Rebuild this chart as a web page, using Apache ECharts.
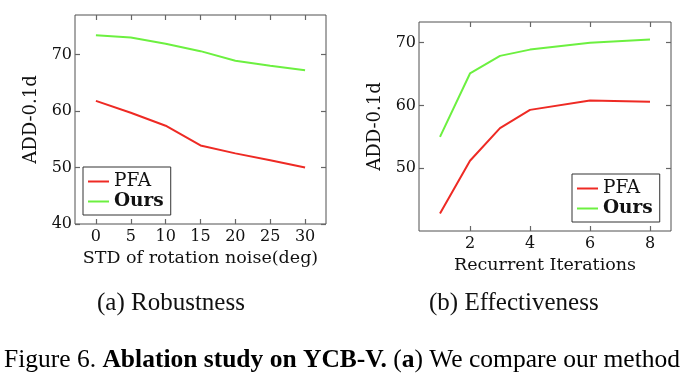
<!DOCTYPE html>
<html>
<head>
<meta charset="utf-8">
<script src="https://cdn.jsdelivr.net/npm/echarts@6/dist/echarts.min.js"></script>
<style>
html,body{margin:0;padding:0;background:#fff;}
#c{width:696px;height:380px;}
</style>
</head>
<body>
<div id="c"></div>
<script>
// ---- data ----
var robustNoise = [0, 5, 10, 15, 20, 25, 30];
var robustPFA  = [61.8, 59.7, 57.4, 53.9, 52.5, 51.3, 50.0];
var robustOurs = [73.4, 73.0, 71.9, 70.6, 68.9, 68.0, 67.2];
var robustXTicks = [0, 5, 10, 15, 20, 25, 30];
var robustYTicks = [40, 50, 60, 70];
var robustXRange = [-3, 33];
var robustYRange = [40, 77];

var iterSteps = [1, 2, 3, 4, 6, 8];
var iterPFA  = [42.8, 51.2, 56.4, 59.3, 60.8, 60.6];
var iterOurs = [55.0, 65.1, 67.9, 68.9, 70.0, 70.5];
var iterXTicks = [2, 4, 6, 8];
var iterYTicks = [50, 60, 70];
var iterXRange = [0.3, 8.7];
var iterYRange = [40, 73.3];

var seriesNames = ['PFA', 'Ours'];
var captionA = '(a) Robustness';
var captionB = '(b) Effectiveness';

function pairs(xs, ys) { return xs.map(function (x, i) { return [x, ys[i]]; }); }

var SERIF = 'DejaVu Serif';
var RED = '#ee2a24';
var GREEN = '#6cf040';
var FRAME = '#505050';
var TICK = '#666666';
var TLEN = 5;
var GRIDS = [
  { left: 75, top: 15, width: 251, height: 209 },
  { left: 419, top: 22, width: 252, height: 209 }
];

function mainX(gi, rng, ticks, name, gap) {
  return {
    type: 'value', gridIndex: gi, min: rng[0], max: rng[1], position: 'bottom',
    name: name, nameLocation: 'middle', nameGap: gap,
    nameTextStyle: { fontFamily: SERIF, fontSize: 17.5, color: '#111' },
    axisLine: { show: false, onZero: false }, axisTick: { show: false },
    axisLabel: { show: true, customValues: ticks, margin: 5, fontFamily: SERIF, fontSize: 16, color: '#111' },
    splitLine: { show: false }
  };
}
function mainY(gi, rng, ticks, name, gap) {
  return {
    type: 'value', gridIndex: gi, min: rng[0], max: rng[1], position: 'left',
    name: name, nameLocation: 'middle', nameGap: gap,
    nameTextStyle: { fontFamily: SERIF, fontSize: 18, color: '#111' },
    axisLine: { show: false, onZero: false }, axisTick: { show: false },
    axisLabel: { show: true, customValues: ticks, margin: 3, fontFamily: SERIF, fontSize: 16, color: '#111' },
    splitLine: { show: false }
  };
}
// inward frame ticks on all four edges, as markLine segments in data coordinates
function frameTicks(gi, xTicks, yTicks, xr, yr) {
  var dy = TLEN * (yr[1] - yr[0]) / GRIDS[gi].height;
  var dx = TLEN * (xr[1] - xr[0]) / GRIDS[gi].width;
  var segs = [];
  xTicks.forEach(function (v) {
    segs.push([{ coord: [v, yr[0]] }, { coord: [v, yr[0] + dy] }]);
    segs.push([{ coord: [v, yr[1]] }, { coord: [v, yr[1] - dy] }]);
  });
  yTicks.forEach(function (w) {
    segs.push([{ coord: [xr[0], w] }, { coord: [xr[0] + dx, w] }]);
    segs.push([{ coord: [xr[1], w] }, { coord: [xr[1] - dx, w] }]);
  });
  return {
    silent: true, symbol: ['none', 'none'], animation: false,
    label: { show: false }, emphasis: { disabled: true },
    lineStyle: { color: TICK, width: 1.2, type: 'solid', opacity: 1 },
    data: segs
  };
}
function lineSeries(name, color, gi, data, ticks) {
  var s = {
    type: 'line', name: name, xAxisIndex: gi, yAxisIndex: gi, data: data,
    symbol: 'none', smooth: false, lineStyle: { color: color, width: 2 },
    itemStyle: { color: color }, z: 3
  };
  if (ticks) s.markLine = ticks;
  return s;
}
function legendAt(left, top) {
  return {
    orient: 'vertical', left: left, top: top, data: seriesNames,
    backgroundColor: '#fff', borderColor: '#333', borderWidth: 1,
    padding: [5, 7, 4, 5], itemGap: 1, itemWidth: 21, itemHeight: 2, icon: 'rect',
    formatter: function (n) { return n === 'Ours' ? '{b|Ours}' : '{n|' + n + '}'; },
    textStyle: {
      fontFamily: SERIF, fontSize: 18, color: '#111', padding: [0, 0, 0, 0],
      rich: {
        n: { fontFamily: SERIF, fontSize: 18.5, lineHeight: 20, color: '#111' },
        b: { fontFamily: SERIF, fontSize: 18.5, lineHeight: 20, fontWeight: 'bold', color: '#111' }
      }
    },
    selectedMode: false
  };
}

var chart = echarts.init(document.getElementById('c'), null, { renderer: 'canvas' });
chart.setOption({
  animation: false,
  backgroundColor: '#fff',
  grid: GRIDS.map(function (g) {
    return { left: g.left, top: g.top, width: g.width, height: g.height, show: true,
             borderColor: FRAME, borderWidth: 1, backgroundColor: 'transparent' };
  }),
  xAxis: [
    mainX(0, robustXRange, robustXTicks, 'STD of rotation noise(deg)', 22),
    mainX(1, iterXRange, iterXTicks, 'Recurrent Iterations', 22)
  ],
  yAxis: [
    mainY(0, robustYRange, robustYTicks, 'ADD-0.1d', 35),
    mainY(1, iterYRange, iterYTicks, 'ADD-0.1d', 35)
  ],
  legend: [legendAt(83, 167), legendAt(572, 174)],
  series: [
    lineSeries('PFA', RED, 0, pairs(robustNoise, robustPFA),
               frameTicks(0, robustXTicks, robustYTicks, robustXRange, robustYRange)),
    lineSeries('Ours', GREEN, 0, pairs(robustNoise, robustOurs)),
    lineSeries('PFA', RED, 1, pairs(iterSteps, iterPFA),
               frameTicks(1, iterXTicks, iterYTicks, iterXRange, iterYRange)),
    lineSeries('Ours', GREEN, 1, pairs(iterSteps, iterOurs))
  ],
  graphic: [
    { type: 'text', left: 97, top: 291, style: { text: captionA, font: '25px "Liberation Serif"', fill: '#111' } },
    { type: 'text', left: 429, top: 291, style: { text: captionB, font: '25px "Liberation Serif"', fill: '#111' } },
    { type: 'text', left: 4, top: 347, style: {
        text: '{n|Figure 6. }{b|Ablation study on YCB-V.}{n| (}{b|a}{n|) We compare our method}',
        rich: {
          n: { fontFamily: 'Liberation Serif', fontSize: 25.5, color: '#111' },
          b: { fontFamily: 'Liberation Serif', fontSize: 25.5, fontWeight: 'bold', color: '#111' }
        }
    } }
  ]
});
</script>
</body>
</html>
